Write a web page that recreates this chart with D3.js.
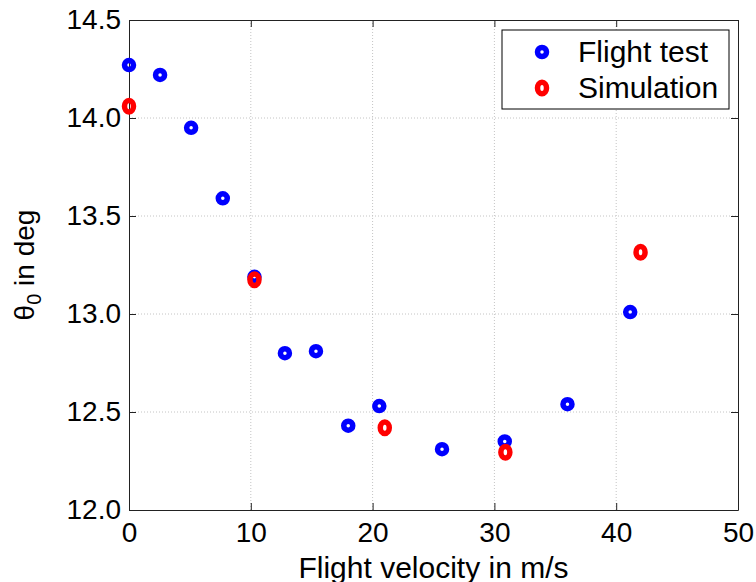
<!DOCTYPE html>
<html>
<head>
<meta charset="utf-8">
<script src="https://cdn.jsdelivr.net/npm/d3@7"></script>
<style>
  body { margin: 0; background: #fff; }
  text { font-family: "Liberation Sans", Arial, sans-serif; fill: #000; }
</style>
</head>
<body>
<div class="chart"></div>
<script>
// flight test points (velocity m/s, theta0 deg)
var testVel   = [0, 2.55, 5.1, 7.7, 10.3, 12.8, 15.35, 18.0, 20.55, 25.7, 30.85, 36.0, 41.15];
var testTheta = [14.27, 14.22, 13.95, 13.59, 13.19, 12.80, 12.81, 12.43, 12.53, 12.31, 12.35, 12.54, 13.01];

// simulation points
var simVel   = [0, 10.3, 21.0, 30.9, 42.0];
var simTheta = [14.06, 13.175, 12.42, 12.295, 13.315];

var xTicks = [0, 10, 20, 30, 40, 50];
var yTicks = [12.0, 12.5, 13.0, 13.5, 14.0, 14.5];

var svgWidth = 756;
var svgHeight = 582;

var margin = {
  top: 20,
  right: 18,
  bottom: 72,
  left: 129
};

var chartWidth = svgWidth - margin.left - margin.right;
var chartHeight = svgHeight - margin.top - margin.bottom;

var svg = d3.select(".chart")
  .append("svg")
  .attr("width", svgWidth)
  .attr("height", svgHeight);

var chartGroup = svg.append("g")
  .attr("transform", `translate(${margin.left}, ${margin.top})`);

var xScale = d3.scaleLinear()
  .domain([0, 50])
  .range([0, chartWidth]);

var yScale = d3.scaleLinear()
  .domain([12, 14.5])
  .range([chartHeight, 0]);

// dotted grid
chartGroup.append("g")
  .selectAll("line")
  .data(xTicks.slice(1, -1))
  .enter()
  .append("line")
  .attr("x1", d => xScale(d)).attr("x2", d => xScale(d))
  .attr("y1", 0).attr("y2", chartHeight)
  .attr("stroke", "#c4c4c4")
  .attr("stroke-dasharray", "1,2");

chartGroup.append("g")
  .selectAll("line")
  .data(yTicks.slice(1, -1))
  .enter()
  .append("line")
  .attr("y1", d => yScale(d)).attr("y2", d => yScale(d))
  .attr("x1", 0).attr("x2", chartWidth)
  .attr("stroke", "#c4c4c4")
  .attr("stroke-dasharray", "1,2");

// axes, ticks pointing inward
var xAxis = d3.axisBottom(xScale).tickValues(xTicks).tickSizeInner(-7).tickSizeOuter(0).tickPadding(12);
var yAxis = d3.axisLeft(yScale).tickValues(yTicks).tickFormat(d3.format(".1f")).tickSizeInner(-7).tickSizeOuter(0).tickPadding(8);
var xAxisTop = d3.axisTop(xScale).tickValues(xTicks).tickSizeInner(-7).tickSizeOuter(0).tickFormat("");
var yAxisRight = d3.axisRight(yScale).tickValues(yTicks).tickSizeInner(-7).tickSizeOuter(0).tickFormat("");

chartGroup.append("g")
  .attr("transform", `translate(0, ${chartHeight})`)
  .call(xAxis);
chartGroup.append("g")
  .call(yAxis);
chartGroup.append("g")
  .call(xAxisTop);
chartGroup.append("g")
  .attr("transform", `translate(${chartWidth}, 0)`)
  .call(yAxisRight);

chartGroup.selectAll(".domain").attr("stroke", "#222");
chartGroup.selectAll(".tick line").attr("stroke", "#222");
chartGroup.selectAll(".tick text")
  .style("font-size", "28px")
  .style("font-family", "Liberation Sans, Arial, sans-serif")
  .attr("fill", "#000");

// markers
var testGroup = chartGroup.append("g");
testGroup.selectAll("circle")
  .data(testVel)
  .enter()
  .append("circle")
  .attr("cx", d => xScale(d))
  .attr("cy", (d, i) => yScale(testTheta[i]))
  .attr("r", 4.5)
  .attr("fill", "none")
  .attr("stroke", "#0000ff")
  .attr("stroke-width", 5.5);

var simGroup = chartGroup.append("g");
simGroup.selectAll("ellipse")
  .data(simVel)
  .enter()
  .append("ellipse")
  .attr("cx", d => xScale(d))
  .attr("cy", (d, i) => yScale(simTheta[i]))
  .attr("rx", 4.5)
  .attr("ry", 5.8)
  .attr("fill", "none")
  .attr("stroke", "#ff0000")
  .attr("stroke-width", 5.5);

// axis labels
svg.append("text")
  .attr("x", margin.left + chartWidth / 2)
  .attr("y", 578)
  .attr("text-anchor", "middle")
  .style("font-size", "30px")
  .text("Flight velocity in m/s");

var yLabel = svg.append("text")
  .attr("transform", `translate(34, ${margin.top + chartHeight / 2}) rotate(-90)`)
  .attr("text-anchor", "middle")
  .style("font-size", "28px");
yLabel.append("tspan").text("\u03B8");
yLabel.append("tspan").attr("dy", 7).style("font-size", "20px").text("0");
yLabel.append("tspan").attr("dy", -7).text(" in deg");

// legend
var legend = svg.append("g");
legend.append("rect")
  .attr("x", 502).attr("y", 30)
  .attr("width", 227).attr("height", 79)
  .attr("fill", "#fff")
  .attr("stroke", "#000");

legend.append("circle")
  .attr("cx", 542).attr("cy", 52)
  .attr("r", 4.5)
  .attr("fill", "none")
  .attr("stroke", "#0000ff")
  .attr("stroke-width", 5.5);
legend.append("ellipse")
  .attr("cx", 542).attr("cy", 88)
  .attr("rx", 4.5).attr("ry", 5.8)
  .attr("fill", "none")
  .attr("stroke", "#ff0000")
  .attr("stroke-width", 5.5);

legend.append("text")
  .attr("x", 578).attr("y", 62)
  .style("font-size", "30px")
  .text("Flight test");
legend.append("text")
  .attr("x", 578).attr("y", 98)
  .style("font-size", "30px")
  .text("Simulation");
</script>
</body>
</html>
